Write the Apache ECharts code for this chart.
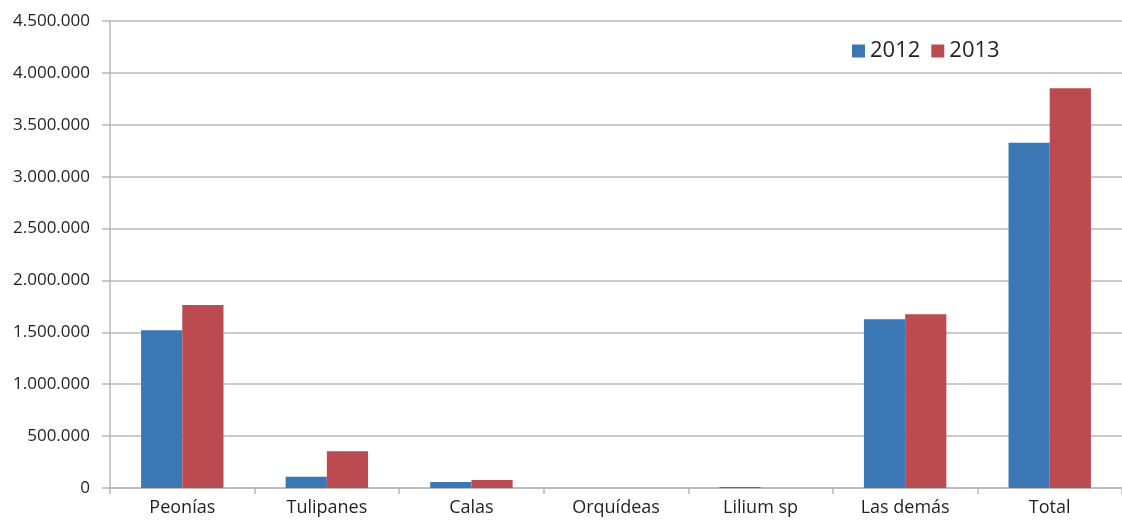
<!DOCTYPE html>
<html>
<head>
<meta charset="utf-8">
<script src="https://cdn.jsdelivr.net/npm/echarts@6/dist/echarts.min.js"></script>
<style>
  html, body { margin: 0; padding: 0; background: #fff; }
  #chart { width: 1122px; height: 521px; }
</style>
</head>
<body>
<div id="chart"></div>
<script>
// Flower categories and yearly values
const categories = ['Peonías', 'Tulipanes', 'Calas', 'Orquídeas', 'Lilium sp', 'Las demás', 'Total'];
const values2012 = [1521000, 109000, 58000, 0, 10000, 1627000, 3327000];
const values2013 = [1764000, 353000, 77000, 0, 0, 1675000, 3853000];
const seriesNames = ['2012', '2013'];

// Thousands separated with dots
function fmt(v) {
  return String(Math.round(v)).replace(/\B(?=(\d{3})+(?!\d))/g, '.');
}

const textColor = '#231f20';
const gridColor = '#b8b8b8';
const font = '"Open Sans", "Noto Sans", sans-serif';

const chart = echarts.init(document.getElementById('chart'), null, { renderer: 'canvas' });
chart.setOption({
  animation: false,
  backgroundColor: '#ffffff',
  grid: { left: 110, right: 0, top: 21, bottom: 33, containLabel: false },
  legend: {
    data: seriesNames,
    left: 847,
    top: 35,
    icon: 'rect',
    itemWidth: 13,
    itemHeight: 13,
    itemGap: 11,
    textStyle: { fontFamily: font, fontSize: 22, color: textColor, padding: [0, 0, 0, 0] }
  },
  xAxis: {
    type: 'category',
    data: categories,
    axisLine: { lineStyle: { color: gridColor, width: 1.5 } },
    axisTick: { show: true, length: 6, lineStyle: { color: gridColor, width: 1.5 } },
    axisLabel: { fontFamily: font, fontSize: 18, color: textColor, margin: 11 }
  },
  yAxis: {
    type: 'value',
    min: 0,
    max: 4500000,
    interval: 500000,
    axisLine: { show: true, lineStyle: { color: gridColor, width: 1.5 } },
    axisTick: { show: true, length: 8, lineStyle: { color: gridColor, width: 1.5 } },
    splitLine: { show: true, lineStyle: { color: gridColor, width: 1.5 } },
    axisLabel: { fontFamily: font, fontSize: 17, color: textColor, margin: 20, formatter: fmt }
  },
  series: [
    {
      name: seriesNames[0],
      type: 'bar',
      data: values2012,
      barGap: '0%',
      barCategoryGap: '43%',
      itemStyle: { color: '#3b77b5' }
    },
    {
      name: seriesNames[1],
      type: 'bar',
      data: values2013,
      barGap: '0%',
      barCategoryGap: '43%',
      itemStyle: { color: '#bb4a51' }
    }
  ]
});
</script>
</body>
</html>
